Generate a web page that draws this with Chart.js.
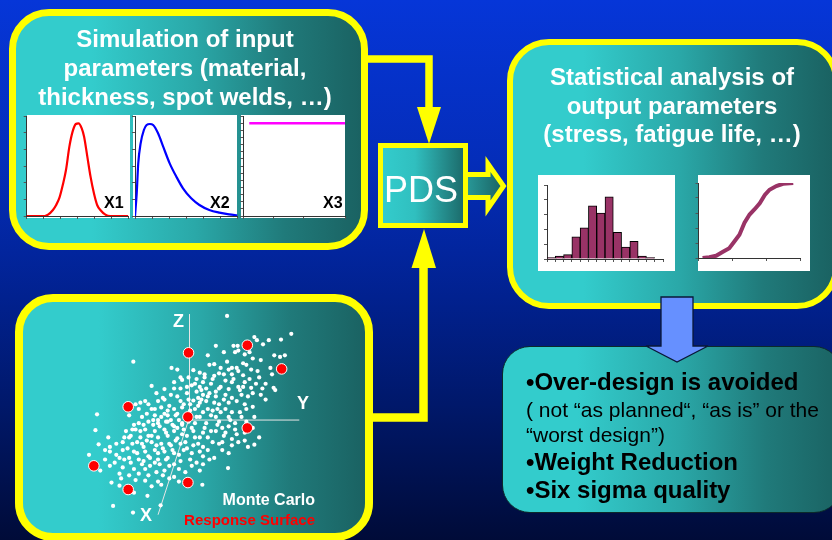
<!DOCTYPE html>
<html>
<head>
<meta charset="utf-8">
<script src="https://cdn.jsdelivr.net/npm/chart.js@4.4.1/dist/chart.umd.min.js"></script>
<style>
  html, body { margin: 0; padding: 0; }
  body {
    width: 832px; height: 540px; overflow: hidden; position: relative;
    font-family: "Liberation Sans", Arial, sans-serif;
    background: linear-gradient(to bottom, #0636d8 0%, #042db9 30%, #01218f 55%, #00186a 75%, #000b38 100%);
  }
  .box {
    position: absolute; box-sizing: border-box; border: 7px solid #ffff00; overflow: hidden; z-index: 2;
    background: linear-gradient(to right, #33cccc 0%, #33cccc 22%, #2aa8a8 52%, #207a7a 78%, #1a6262 100%);
  }
  .panel { position: absolute; background: #fff; z-index: 3; }
  .plot { position: absolute; z-index: 4; }
  .t { position: absolute; white-space: nowrap; z-index: 6; }
  svg { position: absolute; left: 0; top: 0; }
</style>
</head>
<body>

<!-- connectors + arrow out of PDS -->
<svg width="832" height="540" style="z-index:1">
  <defs>
    <linearGradient id="shaft" x1="0" x2="1" y1="0" y2="0">
      <stop offset="0" stop-color="#2a9f9f"/>
      <stop offset="1" stop-color="#1a6262"/>
    </linearGradient>
  </defs>
  <polyline points="360,59 429,59 429,108" fill="none" stroke="#ffff00" stroke-width="7.5" stroke-linejoin="miter"/>
  <polygon points="417,107 441,107 429,144" fill="#ffff00"/>
  <polyline points="365,417.5 423.5,417.5 423.5,266" fill="none" stroke="#ffff00" stroke-width="8.5" stroke-linejoin="miter"/>
  <polygon points="411.5,268 436,268 424,229" fill="#ffff00"/>
  <polygon points="462,174.5 488,174.5 488,164 503.5,186 488,208.5 488,197.5 462,197.5"
           fill="url(#shaft)" stroke="#ffff00" stroke-width="5" stroke-linejoin="miter"/>
</svg>

<!-- boxes -->
<div class="box" style="left:9px;top:9px;width:359px;height:241px;border-radius:40px;"></div>
<div class="box" style="left:507px;top:39px;width:332px;height:270px;border-width:6px;border-radius:42px;"></div>
<div class="box" style="left:15px;top:294px;width:358px;height:247px;border-width:8px;border-radius:38px;">
  <canvas id="mc" width="342" height="238" style="position:absolute;left:0;top:0;"></canvas>
</div>
<div class="box" style="left:502px;top:346px;width:340px;height:167px;border:1.5px solid #0b2a2a;border-radius:28px;"></div>
<div class="box" style="left:378px;top:143px;width:90px;height:85px;border-width:5px;z-index:3;
     background:linear-gradient(to right,#33cccc 0%,#30bfbf 40%,#258e8e 75%,#1c6c6c 100%);"></div>

<!-- blue arrow -->
<svg width="832" height="540" style="z-index:5">
  <polygon points="661,297 693,297 693,346 708,346 677,362 646,346 661,346"
           fill="#6690ff" stroke="#0a1838" stroke-width="1.3" stroke-linejoin="miter"/>
</svg>

<!-- white plot panels -->
<div class="panel" style="left:27px;top:115px;width:103px;height:103px;"></div>
<div class="panel" style="left:133px;top:115px;width:104px;height:103px;"></div>
<div class="panel" style="left:241px;top:115px;width:104px;height:103px;"></div>
<div class="panel" style="left:538px;top:175px;width:137px;height:96px;"></div>
<div class="panel" style="left:698px;top:175px;width:112px;height:96px;"></div>

<canvas class="plot" id="x1" width="110" height="108" style="left:22px;top:112px;"></canvas>
<canvas class="plot" id="x2" width="110" height="108" style="left:130px;top:112px;"></canvas>
<canvas class="plot" id="x3" width="110" height="108" style="left:238px;top:112px;"></canvas>
<canvas class="plot" id="hist" width="137" height="96" style="left:538px;top:175px;"></canvas>
<canvas class="plot" id="cdf" width="116" height="96" style="left:694px;top:175px;"></canvas>

<!-- texts -->
<div class="t" style="left:9px;top:23.7px;width:352px;text-align:center;white-space:normal;font:bold 24px/29px 'Liberation Sans',Arial,sans-serif;color:#fff;">Simulation of input<br>parameters (material,<br>thickness, spot welds, …)</div>
<div class="t" style="left:507px;top:63.4px;width:330px;text-align:center;white-space:normal;font:bold 24px/28.5px 'Liberation Sans',Arial,sans-serif;color:#fff;">Statistical analysis of<br>output parameters<br>(stress, fatigue life, …)</div>
<div class="t" style="left:376px;top:171.5px;width:90px;text-align:center;font:36px/36px 'Liberation Sans',Arial,sans-serif;color:#fff;">PDS</div>

<div class="t" style="left:104px;top:194.5px;font:bold 16px/16px 'Liberation Sans',Arial,sans-serif;color:#000;">X1</div>
<div class="t" style="left:210px;top:194.5px;font:bold 16px/16px 'Liberation Sans',Arial,sans-serif;color:#000;">X2</div>
<div class="t" style="left:323px;top:194.5px;font:bold 16px/16px 'Liberation Sans',Arial,sans-serif;color:#000;">X3</div>

<div class="t" style="left:173px;top:311.8px;font:bold 18px/18px 'Liberation Sans',Arial,sans-serif;color:#fff;">Z</div>
<div class="t" style="left:297px;top:393.8px;font:bold 18px/18px 'Liberation Sans',Arial,sans-serif;color:#fff;">Y</div>
<div class="t" style="left:140px;top:505.8px;font:bold 18px/18px 'Liberation Sans',Arial,sans-serif;color:#fff;">X</div>
<div class="t" style="right:517px;top:491.5px;font:bold 16px/16px 'Liberation Sans',Arial,sans-serif;color:#fff;">Monte Carlo</div>
<div class="t" style="right:517px;top:512.3px;font:bold 15px/15px 'Liberation Sans',Arial,sans-serif;color:#ff0000;">Response Surface</div>

<div class="t" style="left:526px;top:369.7px;font:bold 24px/24px 'Liberation Sans',Arial,sans-serif;color:#000;">•Over-design is avoided</div>
<div class="t" style="left:526px;top:399.2px;font:21px/21px 'Liberation Sans',Arial,sans-serif;color:#000;">( not “as planned“, “as is” or the</div>
<div class="t" style="left:526px;top:424.2px;font:21px/21px 'Liberation Sans',Arial,sans-serif;color:#000;">“worst design”)</div>
<div class="t" style="left:526px;top:449.7px;font:bold 24px/24px 'Liberation Sans',Arial,sans-serif;color:#000;">•Weight Reduction</div>
<div class="t" style="left:526px;top:477.7px;font:bold 24px/24px 'Liberation Sans',Arial,sans-serif;color:#000;">•Six sigma quality</div>

<script>
// --- input distributions ---
const x1X = [0, 1.06, 1.26, 1.55, 1.74, 1.94, 2.13, 2.32, 2.52, 2.71, 2.9, 3.06, 3.25, 3.39, 3.58, 3.77, 3.97, 4.16, 4.35, 4.65, 4.94, 6];
const x1Y = [0, 0, 0.08, 0.36, 0.66, 1.12, 1.86, 2.76, 4.16, 5.06, 5.52, 5.56, 5.26, 4.76, 3.56, 2.36, 1.36, 0.66, 0.36, 0.08, 0, 0];

const x2X = [0, 0.1, 0.19, 0.33, 0.52, 0.68, 0.87, 1.06, 1.35, 1.65, 2.03, 2.42, 2.81, 3.29, 3.77, 4.35, 4.94, 5.52, 6];
const x2Y = [0, 1.36, 3.16, 4.36, 5.16, 5.46, 5.52, 5.46, 4.96, 4.16, 3.16, 2.36, 1.66, 1.06, 0.66, 0.36, 0.2, 0.1, 0.04];

const x3X = [0.4, 6.8];
const x3Y = [1.3, 1.3];

// --- output statistics ---
const histBins = ['1', '2', '3', '4', '5', '6', '7', '8', '9', '10', '11', '12', '13', '14'];
const histCounts = [1, 2, 3, 15, 21, 36, 31, 42, 18, 8, 12, 2, 1, 0];

const cdfX = [0.12, 0.32, 0.52, 0.71, 0.91, 1.06, 1.21, 1.36, 1.51, 1.66, 1.81, 1.96, 2.1, 2.3, 2.5, 2.8];
const cdfY = [0, 0.01, 0.03, 0.08, 0.13, 0.22, 0.31, 0.47, 0.58, 0.65, 0.73, 0.84, 0.91, 0.96, 0.99, 1.0];

// --- Monte Carlo cloud and response surface design points (projected units) ---
const monteCarlo = [
  [120,325],[320,268],[205,258],[213,248],[250,248],[288,250],[232,235],[85,230],[140,230],[153,230],
  [110,210],[145,210],[155,215],[175,203],[267,200],[285,195],[200,190],[225,185],[-172,180],[-53,160],
  [-35,155],[15,153],[65,170],[80,172],[100,160],[125,155],[135,160],[155,150],[180,170],[195,155],
  [215,150],[255,160],[35,145],[50,140],[95,143],[135,140],[170,137],[190,125],[0,130],[-20,122],
  [25,125],[45,115],[75,125],[115,120],[135,115],[175,115],[210,110],[265,97],[270,90],[-115,103],
  [-75,93],[-45,95],[-25,95],[10,105],[35,100],[55,95],[95,95],[125,93],[155,100],[195,97],
  [225,75],[-55,75],[-35,70],[-5,80],[25,85],[45,75],[65,80],[85,70],[115,75],[135,65],
  [165,75],[185,70],[-150,50],[-125,45],[-95,55],[-75,60],[-25,55],[15,57],[35,50],[55,55],
  [95,45],[125,50],[175,45],[200,37],[-155,30],[-115,30],[-85,35],[-65,25],[-45,30],[-20,35],
  [20,30],[45,20],[75,25],[115,30],[135,20],[165,5],[205,5],[-285,13],[-185,10],[-145,5],
  [-105,10],[-65,10],[-35,15],[35,5],[85,5],[125,5],[-155,-15],[-125,-10],[-95,-15],[-65,-10],
  [-45,-25],[-20,-15],[20,-15],[55,-15],[95,-10],[125,-25],[145,-15],[-290,-37],[-195,-40],[-165,-35],
  [-135,-35],[-105,-40],[-75,-35],[-45,-40],[-15,-35],[15,-40],[45,-45],[85,-40],[115,-45],[145,-35],
  [175,-45],[-180,-55],[-150,-60],[-125,-55],[-95,-60],[-65,-55],[-35,-63],[-5,-55],[35,-60],[75,-75],
  [105,-75],[135,-65],[155,-75],[175,-70],[205,-83],[-280,-82],[-245,-90],[-205,-75],[-175,-80],[-145,-80],
  [-115,-75],[-85,-80],[-55,-85],[-25,-80],[15,-85],[45,-90],[95,-80],[135,-85],[185,-90],[-245,-105],
  [-205,-100],[-170,-105],[-135,-105],[-105,-100],[-75,-105],[-45,-110],[-15,-100],[35,-105],[125,-110],[-310,-115],
  [-225,-115],[-185,-125],[-155,-130],[-125,-120],[-95,-130],[-65,-125],[-25,-135],[5,-130],[45,-120],[-180,-140],
  [-145,-145],[-105,-140],[-45,-145],[25,-140],[45,-145],[-245,-150],[-205,-155],[-170,-160],[-135,-160],[-100,-170],
  [-75,-165],[35,-165],[-275,-165],[-215,-175],[-185,-180],[-155,-175],[-125,-180],[-80,-180],[-45,-185],[-210,-190],
  [-165,-195],[-135,-197],[-95,-200],[-240,-203],[-215,-213],[-115,-215],[-85,-210],[43,-210],[123,-157],[-170,-235],
  [-128,-245],[-235,-277],[-173,-298],[-87,-275],
  [-10,10],[-30,-5],[10,-30],[-50,-20],[30,40],[60,30],[-60,40],[-90,-25],[-20,-50],[50,-30],
  [80,50],[100,20],[-40,-70],[-110,-20],[-70,-45],[20,-60],[-5,-95],[-30,-115],[60,-60],[90,-20],
  [-80,65],[-100,80],[0,60],[40,90],[70,110],[100,100],[-140,-90],[-160,-110],[-120,-150],[-60,-150],
  [-95,-110],[-130,-70],[-150,-40],[-185,-60],[-200,-130],[110,-55],[150,-50],[180,30],[160,90],[220,130],
  [240,110],[120,180],[60,200],[-10,-170],[-30,-160],[-60,-190],
  [-15,45],[5,25],[25,5],[-35,-30],[-55,-5],[-75,15],[-95,-5],[-115,-55],[-140,-20],[-160,-75],
  [-190,-95],[-215,-125],[-230,-140],[-260,-130],[-170,-20],[-130,15],[-105,30],[-60,-80],[-80,-95],[-100,-85],
  [-120,-125],[-140,-135],[-90,-145],[-70,-130],[-50,-100],[-10,-75],[10,-110],[30,-80],[60,-100],[70,-40],
  [105,-30],[130,-5],[160,20],[150,55],[110,60],[85,85],[60,70],[30,65],[-5,100],[-25,130],
  [-45,115],[20,110],[50,130],[80,135],[110,140],[140,125],[170,100],[200,80],[230,95],[240,60],
  [180,-10],[200,-30],[220,-60],[-20,-20],[0,-10],[-40,10],[-70,-10],[-85,5],[5,45],[40,60],
  [-110,-5],[-135,55],[-165,45],[-175,-35],[-200,-60],[-225,-80],[-250,-60],[-260,-100],[70,10],[90,30],
  [105,-100],[80,-125],[-30,-200],[10,-150],[65,-130],[150,160],[170,175],[260,140],[300,200],[190,210]
];
const responseSurface = [
  [0,208],[183,232],[290,157],[-188,37],[-2,5],[183,-30],[-295,-150],[-188,-225],[-2,-203]
];
const zAxis = [[3,330],[3,-5]];
const yAxis = [[3,-5],[345,-5]];
const xAxis = [[0,-5],[-95,-305]];

const toXY = (xs, ys) => xs.map((x, i) => ({ x: x, y: ys[i] }));
const toPts = pairs => pairs.map(p => ({ x: p[0], y: p[1] }));

function smallAxis(min, max, step, pos) {
  return {
    type: 'linear', position: pos, min: min, max: max,
    ticks: { display: false, stepSize: step },
    grid: { drawOnChartArea: false, drawTicks: true, tickLength: 3, color: '#555', lineWidth: 1 },
    border: { display: true, color: '#333', width: 1 }
  };
}

const baseOpts = {
  animation: false, responsive: false, events: [],
  plugins: { legend: { display: false }, tooltip: { enabled: false } }
};

function curveChart(id, data, color, width, xr, yr, pad, smooth) {
  new Chart(document.getElementById(id), {
    type: 'scatter',
    data: { datasets: [{
      data: data, showLine: true, borderColor: color, borderWidth: width,
      pointRadius: 0, fill: false, cubicInterpolationMode: smooth ? 'monotone' : 'default', tension: 0
    }] },
    options: Object.assign({}, baseOpts, {
      layout: { padding: pad },
      scales: {
        x: smallAxis(xr[0], xr[1], xr[2], 'bottom'),
        y: smallAxis(yr[0], yr[1], yr[2], 'left')
      }
    })
  });
}

curveChart('x1', toXY(x1X, x1Y), '#ff0000', 2.2, [0, 6, 1], [0, 6, 1], { left: 1.7, right: 3.7, top: 4, bottom: 1 }, true);
curveChart('x2', toXY(x2X, x2Y), '#0000ff', 2.2, [0, 6, 1], [0, 6, 1], { left: 2, right: 2.5, top: 4, bottom: 1 }, true);
curveChart('x3', toXY(x3X, x3Y), '#ff00ff', 2.5, [0, 6.8, 2], [0, 1.4, 0.1], { left: 2.3, right: 3, top: 4, bottom: 1 }, false);
curveChart('cdf', toXY(cdfX, cdfY), '#993366', 4, [0, 3, 1], [0, 1, 0.2], { left: 1.5, right: 10, top: 8, bottom: 10 }, false);

new Chart(document.getElementById('hist'), {
  type: 'bar',
  data: { labels: histBins, datasets: [{
    data: histCounts, backgroundColor: '#993366', borderColor: '#000', borderWidth: 1,
    barPercentage: 1, categoryPercentage: 1
  }] },
  options: Object.assign({}, baseOpts, {
    layout: { padding: { left: 6, right: 12, top: 10, bottom: 9 } },
    scales: {
      x: {
        type: 'category', ticks: { display: false },
        grid: { drawOnChartArea: false, drawTicks: true, tickLength: 3, color: '#555', offset: true },
        border: { display: true, color: '#333', width: 1 }
      },
      y: smallAxis(0, 50, 10, 'left')
    }
  })
});

new Chart(document.getElementById('mc'), {
  type: 'scatter',
  data: { datasets: [
    { data: toPts(responseSurface), pointRadius: 5.3, backgroundColor: '#ff0000', borderColor: '#ffffff', borderWidth: 1 },
    { data: toPts(monteCarlo), pointRadius: 2.1, backgroundColor: '#ffffff', borderWidth: 0 },
    { data: toPts(zAxis), showLine: true, pointRadius: 0, borderColor: '#e6e6e6', borderWidth: 1 },
    { data: toPts(yAxis), showLine: true, pointRadius: 0, borderColor: '#e6e6e6', borderWidth: 1 },
    { data: toPts(xAxis), showLine: true, pointRadius: 0, borderColor: '#e6e6e6', borderWidth: 1 }
  ] },
  options: Object.assign({}, baseOpts, {
    layout: { padding: 0 },
    scales: {
      x: { type: 'linear', min: -496, max: 530, display: false },
      y: { type: 'linear', min: -365, max: 349, display: false }
    }
  })
});
</script>
</body>
</html>
